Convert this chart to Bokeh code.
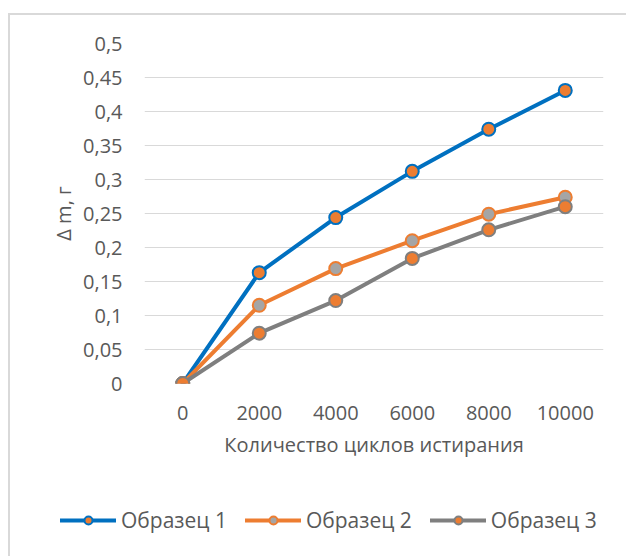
from bokeh.plotting import figure
from bokeh.layouts import column, row
from bokeh.models import (ColumnDataSource, FactorRange, Range1d, FixedTicker,
                          Legend, LegendItem)
from bokeh.embed import file_html
from bokeh.resources import INLINE

# Abrasion test: mass loss vs. number of abrasion cycles
cycles = ["0", "2000", "4000", "6000", "8000", "10000"]
sample1 = [0, 0.163, 0.244, 0.312, 0.374, 0.431]
sample2 = [0, 0.115, 0.169, 0.210, 0.249, 0.274]
sample3 = [0, 0.074, 0.122, 0.184, 0.226, 0.260]
series_names = ["Образец 1", "Образец 2", "Образец 3"]

y_ticks = [0, 0.05, 0.1, 0.15, 0.2, 0.25, 0.3, 0.35, 0.4, 0.45, 0.5]
y_tick_labels = ["0", "0,05", "0,1", "0,15", "0,2", "0,25", "0,3", "0,35",
                 "0,4", "0,45", "0,5"]

x_title = "Количество циклов истирания"
y_title = "Δ m, г"

FONT = "Open Sans"
FS = "20px"
TEXT = "#595959"

p = figure(width=616, height=475, x_range=FactorRange(factors=cycles, range_padding=0),
           y_range=Range1d(0, 0.5), output_backend="svg", toolbar_location=None,
           min_border_left=134, min_border_right=23, min_border_top=28,
           min_border_bottom=107)
p.outline_line_color = None
p.background_fill_color = "white"
p.border_fill_color = "white"

# axes
p.xaxis.axis_line_color = None
p.yaxis.axis_line_color = None
p.xaxis.major_tick_line_color = None
p.yaxis.major_tick_line_color = None
p.xaxis.minor_tick_line_color = None
p.yaxis.minor_tick_line_color = None
p.yaxis.ticker = FixedTicker(ticks=y_ticks)
p.yaxis.major_label_overrides = dict(zip(y_ticks, y_tick_labels))
for ax in (p.xaxis[0], p.yaxis[0]):
    ax.major_label_text_font = FONT
    ax.major_label_text_font_size = FS
    ax.major_label_text_color = TEXT
    ax.axis_label_text_font = FONT
    ax.axis_label_text_font_size = FS
    ax.axis_label_text_color = TEXT
    ax.axis_label_text_font_style = "normal"
p.xaxis.axis_label = x_title
p.yaxis.axis_label = y_title
p.yaxis.major_label_standoff = 16
p.yaxis.axis_label_standoff = 3
p.xaxis.major_label_standoff = 16
p.xaxis.axis_label_standoff = 8

p.xgrid.grid_line_color = None
p.ygrid.grid_line_color = "#d9d9d9"
p.ygrid.grid_line_width = 1

src = ColumnDataSource(dict(x=cycles, s1=sample1, s2=sample2, s3=sample3))

styles = [
    ("s1", "#0070C0", "#ED7D31"),
    ("s2", "#ED7D31", "#A5A5A5"),
    ("s3", "#7F7F7F", "#ED7D31"),
]


def draw_series(fig):
    rs = []
    for col, line_c, fill_c in styles:
        ln = fig.line("x", col, source=src, line_color=line_c, line_width=4,
                      line_cap="round")
        mk = fig.scatter("x", col, source=src, size=13, fill_color=fill_c,
                         line_color=line_c, line_width=2)
        rs.append([ln, mk])
    return rs


draw_series(p)

# legend strip underneath the chart: same series, y window kept above the data
lf = figure(width=616, height=66, x_range=FactorRange(factors=cycles, range_padding=0),
            y_range=Range1d(1, 2), x_axis_type=None, y_axis_type=None,
            output_backend="svg", toolbar_location=None,
            min_border_left=10, min_border_right=0, min_border_top=0,
            min_border_bottom=0)
lf.outline_line_color = None
lf.xgrid.grid_line_color = None
lf.ygrid.grid_line_color = None
items = [LegendItem(label=name, renderers=rs)
         for name, rs in zip(series_names, draw_series(lf))]

legend = Legend(items=items, orientation="horizontal", location=(40, 22),
                glyph_width=56, glyph_height=20, label_standoff=5, spacing=18,
                padding=0, margin=0, border_line_color=None,
                background_fill_alpha=0,
                label_text_font=FONT, label_text_font_size="21px",
                label_text_color=TEXT)
lf.add_layout(legend, "center")

layout = column(p, row(lf, spacing=0), spacing=0, margin=(13, 0, 0, 8),
                styles={"border-left": "2px solid #d9d9d9",
                        "border-top": "2px solid #d9d9d9"})

open("out.html", "w").write(file_html(layout, INLINE))
